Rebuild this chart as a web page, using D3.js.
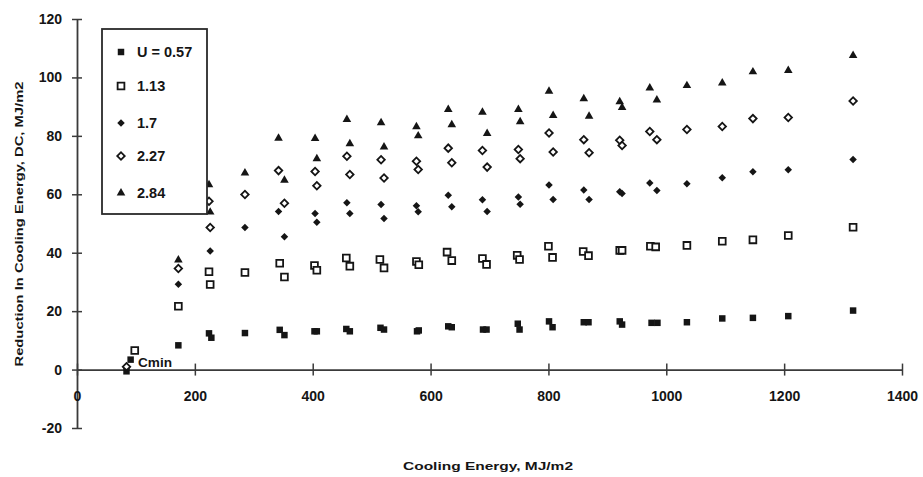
<!DOCTYPE html>
<html>
<head>
<meta charset="utf-8">
<script src="https://cdn.jsdelivr.net/npm/d3@7"></script>
<style>
  html, body { margin: 0; padding: 0; background: #fff; }
  svg { display: block; font-family: "Liberation Sans", Arial, sans-serif; }
</style>
</head>
<body>
<svg id="chart" width="923" height="477"></svg>
<script>
// Axis ticks
const xTicks = [0, 200, 400, 600, 800, 1000, 1200, 1400];
const yTicks = [-20, 0, 20, 40, 60, 80, 100, 120];

// Legend labels (overall U-value of each series)
const seriesLabels = ["U = 0.57", "1.13", "1.7", "2.27", "2.84"];

// [cooling energy MJ/m2, reduction in cooling energy DC MJ/m2]
const seriesU057 = [
  [91, 3.4], [84, -0.6], [172, 8.3], [224, 12.4], [228, 10.9], [285, 12.5],
  [344, 13.6], [352, 11.8], [403, 13.1], [407, 13.1], [457, 13.9], [463, 13.1],
  [515, 14.3], [521, 13.7], [577, 13.1], [580, 13.4], [630, 14.8], [636, 14.5],
  [689, 13.7], [695, 13.7], [748, 15.7], [751, 13.7], [801, 16.5], [807, 14.5],
  [860, 16.2], [868, 16.2], [921, 16.5], [925, 15.4], [975, 16.0], [985, 16.0],
  [1035, 16.2], [1095, 17.5], [1147, 17.7], [1207, 18.3], [1317, 20.2]
];
const seriesU113 = [
  [98, 6.5], [172, 21.7], [224, 33.5], [226, 29.1], [285, 33.2],
  [344, 36.4], [352, 31.7], [403, 35.6], [407, 34.0], [457, 38.2], [463, 35.4],
  [514, 37.7], [521, 34.8], [576, 37.0], [580, 35.9], [628, 40.2], [636, 37.3],
  [688, 38.0], [695, 36.0], [747, 39.1], [751, 37.7], [800, 42.2], [807, 38.4],
  [859, 40.4], [868, 39.0], [921, 40.8], [925, 40.8], [973, 42.2], [982, 42.0],
  [1035, 42.5], [1095, 43.9], [1147, 44.4], [1207, 45.9], [1317, 48.7]
];
const seriesU170 = [
  [172, 29.2], [226, 40.6], [285, 48.6], [342, 54.1], [352, 45.5],
  [404, 53.4], [407, 50.4], [458, 57.1], [463, 53.4], [516, 56.5], [521, 51.7],
  [576, 56.1], [579, 54.0], [630, 59.7], [636, 55.7], [688, 58.1], [696, 54.1],
  [749, 59.1], [752, 56.6], [801, 63.2], [808, 58.2], [860, 61.5], [869, 58.2],
  [921, 60.9], [925, 60.3], [972, 63.9], [984, 61.3], [1035, 63.6], [1095, 65.7],
  [1147, 67.7], [1207, 68.4], [1317, 71.9]
];
const seriesU227 = [
  [84, 1.0], [172, 34.6], [224, 57.6], [226, 48.6], [285, 59.9],
  [342, 68.1], [352, 56.9], [404, 67.8], [407, 62.9], [458, 73.0], [463, 66.8],
  [516, 71.8], [521, 65.6], [576, 71.3], [579, 68.5], [630, 75.8], [636, 70.8],
  [688, 75.0], [696, 69.3], [749, 75.3], [752, 72.2], [801, 81.0], [808, 74.5],
  [860, 78.7], [869, 74.2], [921, 78.5], [925, 76.7], [972, 81.5], [984, 78.7],
  [1035, 82.2], [1095, 83.2], [1147, 85.9], [1207, 86.3], [1317, 91.9]
];
const seriesU284 = [
  [172, 37.5], [224, 63.3], [226, 53.9], [285, 67.3],
  [342, 79.2], [352, 64.8], [404, 79.1], [407, 72.2], [458, 85.6], [463, 77.3],
  [516, 84.5], [521, 76.2], [576, 83.1], [579, 80.0], [630, 89.0], [636, 83.8],
  [688, 88.1], [696, 80.8], [749, 89.0], [752, 84.8], [801, 95.3], [808, 87.0],
  [860, 92.7], [869, 86.7], [921, 91.7], [925, 89.7], [972, 96.4], [984, 92.3],
  [1035, 97.2], [1095, 98.1], [1147, 101.9], [1207, 102.4], [1317, 107.5]
];

const ink = "#151515";
const axisInk = "#3a3a3a";
const font = "'Liberation Sans', Arial, sans-serif";

// marker styles per series
const markers = [
  { data: seriesU057, type: d3.symbolSquare,   size: 42, rotate: 0,  fill: ink,    stroke: "none", sw: 0 },
  { data: seriesU113, type: d3.symbolSquare,   size: 46, rotate: 0,  fill: "#fff", stroke: ink,    sw: 1.8 },
  { data: seriesU170, type: d3.symbolSquare,   size: 28, rotate: 45, fill: ink,    stroke: "none", sw: 0 },
  { data: seriesU227, type: d3.symbolSquare,   size: 28, rotate: 45, fill: "#fff", stroke: ink,    sw: 1.8 },
  { data: seriesU284, type: d3.symbolTriangle, size: 32, rotate: 0,  fill: ink,    stroke: "none", sw: 0 }
];

const svg = d3.select("#chart");

const x = d3.scaleLinear().domain([0, 1400]).range([77, 902]);
const y = d3.scaleLinear().domain([-20, 120]).range([428, 19]);

// y axis with ticks crossing the line
const gy = svg.append("g")
  .attr("transform", `translate(${x(0)},0)`)
  .call(d3.axisLeft(y).tickValues(yTicks).tickFormat(d => String(d))
    .tickSizeInner(5).tickSizeOuter(0).tickPadding(10));
gy.select(".domain").attr("stroke", axisInk).attr("stroke-width", 1.8);
gy.selectAll(".tick line").attr("x1", -5).attr("x2", 5).attr("stroke", axisInk).attr("stroke-width", 1.5);
gy.selectAll(".tick text")
  .attr("font-size", 14).attr("font-weight", "bold").attr("fill", ink)
  .attr("font-family", font);

// x axis along DC = 0
const gx = svg.append("g")
  .attr("transform", `translate(0,${y(0)})`)
  .call(d3.axisBottom(x).tickValues(xTicks).tickFormat(d => String(d))
    .tickSizeInner(6).tickSizeOuter(0).tickPadding(15));
gx.select(".domain").attr("stroke", axisInk).attr("stroke-width", 1.8);
gx.selectAll(".tick line").attr("y1", -6).attr("y2", 6).attr("stroke", axisInk).attr("stroke-width", 1.5);
gx.selectAll(".tick text")
  .attr("font-size", 14).attr("font-weight", "bold").attr("fill", ink)
  .attr("font-family", font);

// axis titles
svg.append("text")
  .attr("transform", `translate(23,224) rotate(-90)`)
  .attr("text-anchor", "middle")
  .attr("font-size", 11.5).attr("font-weight", "bold").attr("fill", ink)
  .attr("font-family", font)
  .attr("textLength", 285).attr("lengthAdjust", "spacingAndGlyphs")
  .text("Reduction In Cooling Energy, DC, MJ/m2");

svg.append("text")
  .attr("x", 488).attr("y", 470)
  .attr("text-anchor", "middle")
  .attr("font-size", 11.5).attr("font-weight", "bold").attr("fill", ink)
  .attr("font-family", font)
  .attr("textLength", 170).attr("lengthAdjust", "spacingAndGlyphs")
  .text("Cooling Energy, MJ/m2");

// data markers
const symbolGen = d3.symbol();
markers.forEach(m => {
  svg.append("g").selectAll("path")
    .data(m.data)
    .join("path")
    .attr("transform", d => `translate(${x(d[0])},${y(d[1])}) rotate(${m.rotate})`)
    .attr("d", symbolGen.type(m.type).size(m.size)())
    .attr("fill", m.fill)
    .attr("stroke", m.stroke)
    .attr("stroke-width", m.sw);
});

// Cmin annotation
svg.append("text")
  .attr("x", 138).attr("y", 367)
  .attr("font-size", 13).attr("font-weight", "bold").attr("fill", ink)
  .attr("font-family", font)
  .attr("textLength", 34).attr("lengthAdjust", "spacingAndGlyphs")
  .text("Cmin");

// legend
const legend = svg.append("g");
legend.append("rect")
  .attr("x", 102).attr("y", 29).attr("width", 105).attr("height", 185)
  .attr("fill", "#fff").attr("stroke", "#2a2a2a").attr("stroke-width", 1.8);

const legendRows = [52, 86, 123, 156, 193];
markers.forEach((m, i) => {
  legend.append("path")
    .attr("transform", `translate(121,${legendRows[i]}) rotate(${m.rotate})`)
    .attr("d", symbolGen.type(m.type).size(m.size)())
    .attr("fill", m.fill)
    .attr("stroke", m.stroke)
    .attr("stroke-width", m.sw);
  legend.append("text")
    .attr("x", 137).attr("y", legendRows[i]).attr("dy", "0.36em")
    .attr("font-size", 14.5).attr("font-weight", "bold").attr("fill", ink)
    .attr("font-family", font)
    .text(seriesLabels[i]);
});
</script>
</body>
</html>
